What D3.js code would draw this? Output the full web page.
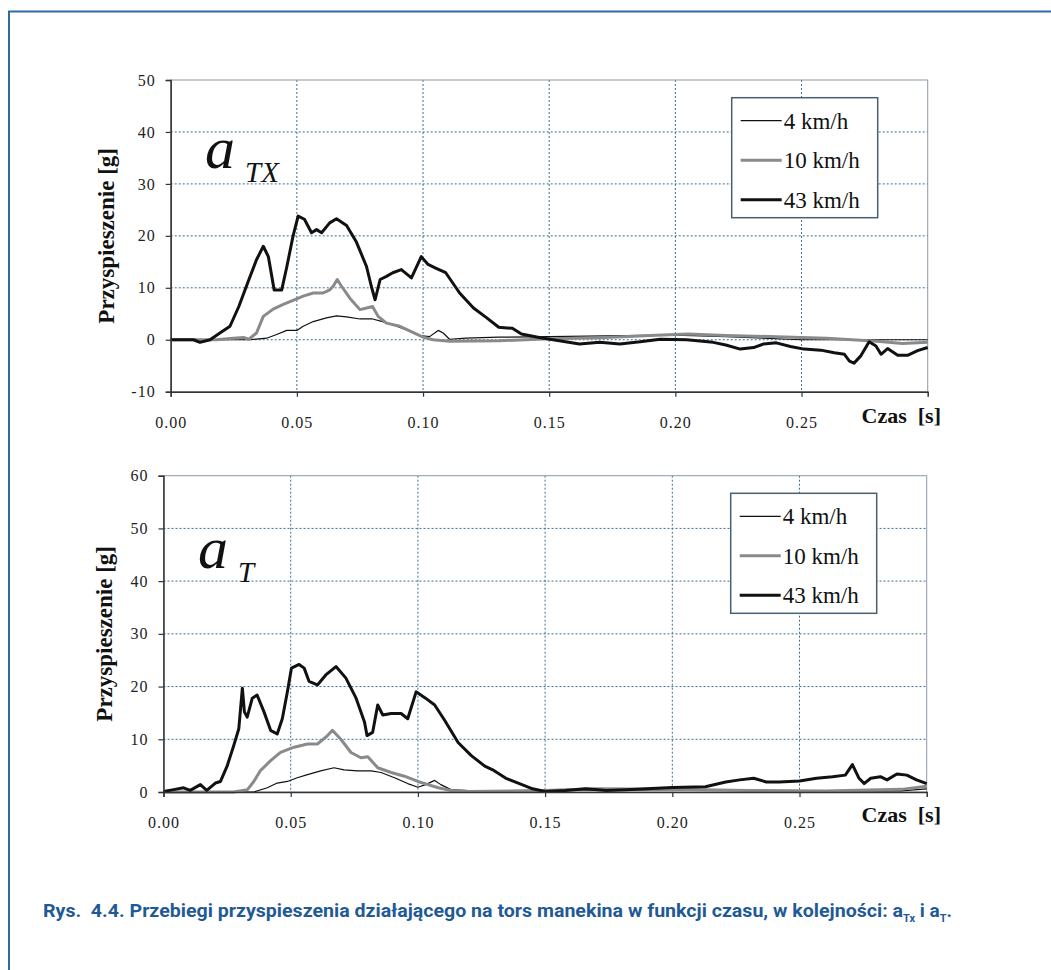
<!DOCTYPE html>
<html>
<head>
<meta charset="utf-8">
<script src="https://cdn.jsdelivr.net/npm/d3@7"></script>
<style>
  body { margin: 0; background: #fff; }
  svg { display: block; }
  .serif { font-family: "Liberation Serif", Tinos, "Times New Roman", serif; }
</style>
</head>
<body>
<svg id="chart" width="1051" height="970"></svg>
<script>
// series names / legend
const seriesNames = ["4 km/h", "10 km/h", "43 km/h"];
const xTicks = [0, 0.05, 0.10, 0.15, 0.20, 0.25];

// a_TX panel: [time s, acceleration g]
const tx4 = [[0,0],[0.031,0],[0.038,0.3],[0.042,1],[0.046,1.8],[0.05,1.8],[0.0525,2.6],[0.0565,3.5],[0.0617,4.2],[0.0657,4.6],[0.0697,4.4],[0.075,4],[0.080,4],[0.084,3.5],[0.088,2.9],[0.0934,1.9],[0.0987,0.8],[0.1026,0.6],[0.106,1.8],[0.108,1.3],[0.1105,0.1],[0.117,0.3],[0.130,0.5],[0.15,0.6],[0.18,0.8],[0.20,0.9],[0.22,0.6],[0.245,0.1],[0.25,0],[0.30,0]];
const tx10 = [[0,0],[0.018,0],[0.0248,0.3],[0.0288,0.45],[0.031,0.1],[0.034,1.3],[0.0367,4.5],[0.0406,5.9],[0.0446,6.8],[0.0485,7.6],[0.0525,8.4],[0.0565,9],[0.0604,9],[0.063,9.6],[0.0644,10.3],[0.066,11.6],[0.0677,10.3],[0.071,8],[0.075,5.8],[0.0776,6.1],[0.080,6.4],[0.0822,4.5],[0.0855,3.2],[0.0908,2.6],[0.096,1.4],[0.100,0.5],[0.104,0],[0.1105,-0.3],[0.13,-0.2],[0.15,0.2],[0.17,0.4],[0.19,0.8],[0.205,1.1],[0.22,0.8],[0.24,0.6],[0.26,0.3],[0.28,-0.3],[0.29,-0.7],[0.30,-0.5]];
const tx43 = [[0,0],[0.009,0],[0.0116,-0.5],[0.0156,0],[0.0195,1.3],[0.0235,2.6],[0.027,6.4],[0.031,11.6],[0.034,15.4],[0.0367,18],[0.0387,16],[0.041,9.6],[0.044,9.6],[0.046,14],[0.0485,20],[0.0505,23.8],[0.053,23.2],[0.0558,20.6],[0.0578,21.2],[0.0598,20.6],[0.063,22.5],[0.0657,23.3],[0.0697,22],[0.0736,18.8],[0.0776,14.1],[0.0795,10.3],[0.081,7.7],[0.083,11.6],[0.0855,12.2],[0.088,12.9],[0.0914,13.5],[0.0954,11.9],[0.0993,16],[0.102,14.5],[0.105,13.8],[0.109,12.9],[0.1145,9],[0.12,6.1],[0.125,4.3],[0.130,2.4],[0.1354,2.2],[0.139,1.1],[0.146,0.45],[0.154,-0.2],[0.162,-0.8],[0.17,-0.5],[0.178,-0.8],[0.186,-0.4],[0.194,0.1],[0.2045,0],[0.215,-0.5],[0.220,-1],[0.2257,-1.8],[0.231,-1.5],[0.235,-0.8],[0.240,-0.6],[0.2456,-1.3],[0.251,-1.8],[0.2576,-2],[0.263,-2.5],[0.267,-2.8],[0.269,-4.1],[0.2708,-4.5],[0.2735,-3.1],[0.2768,-0.4],[0.2795,-1.2],[0.2815,-2.8],[0.2841,-1.7],[0.2881,-3],[0.292,-3],[0.296,-2.1],[0.300,-1.5]];
const txYTicks = [-10, 0, 10, 20, 30, 40, 50];

// a_T panel
const t4 = [[0,0],[0.0355,0],[0.0408,0.8],[0.0447,1.7],[0.0487,2],[0.0526,2.7],[0.0566,3.3],[0.0618,4],[0.067,4.6],[0.071,4.2],[0.0763,4],[0.0816,4],[0.0855,3.7],[0.0908,2.7],[0.096,1.6],[0.100,0.9],[0.103,1.4],[0.1066,2.2],[0.109,1.4],[0.113,0.45],[0.12,0.25],[0.16,0.3],[0.20,0.4],[0.25,0.2],[0.29,0.2],[0.30,0.6]];
const t10 = [[0,0],[0.0276,0],[0.033,0.45],[0.0355,2],[0.038,4],[0.042,5.9],[0.046,7.5],[0.0513,8.5],[0.0566,9.1],[0.0605,9.1],[0.0645,10.7],[0.0664,11.7],[0.0697,10],[0.0737,7.5],[0.0776,6.5],[0.0803,6.7],[0.0842,4.6],[0.0895,3.7],[0.0947,3],[0.100,2],[0.104,1.4],[0.108,0.8],[0.113,0.3],[0.12,0.1],[0.15,0.3],[0.17,0.6],[0.20,0.5],[0.23,0.3],[0.26,0.2],[0.29,0.5],[0.30,1.1]];
const t43 = [[0,0.1],[0.004,0.45],[0.0079,0.8],[0.0105,0.3],[0.0145,1.4],[0.017,0.3],[0.0204,1.7],[0.0224,2],[0.025,4.9],[0.0276,8.8],[0.0296,12],[0.031,19.7],[0.0318,15.2],[0.0329,14.2],[0.0349,17.8],[0.0368,18.4],[0.0395,15.2],[0.0421,11.7],[0.0447,11],[0.0467,13.9],[0.0487,19],[0.0503,23.5],[0.0533,24.2],[0.0553,23.5],[0.0572,21],[0.0605,20.3],[0.0638,22.2],[0.0678,23.8],[0.0717,21.6],[0.0757,17.8],[0.079,13.3],[0.080,10.7],[0.0822,11.3],[0.0842,16.5],[0.0862,14.6],[0.0895,14.9],[0.0934,14.9],[0.096,13.9],[0.0993,19],[0.103,17.8],[0.1066,16.5],[0.1105,13.6],[0.1158,9.4],[0.121,6.9],[0.1263,4.9],[0.1294,4.2],[0.1346,2.6],[0.1399,1.6],[0.1451,0.6],[0.150,0.1],[0.158,0.3],[0.166,0.6],[0.174,0.3],[0.182,0.45],[0.190,0.6],[0.200,0.85],[0.213,1],[0.221,1.9],[0.2265,2.3],[0.232,2.6],[0.237,1.9],[0.242,1.9],[0.250,2.1],[0.2567,2.6],[0.263,2.9],[0.268,3.2],[0.2708,5.2],[0.2734,2.6],[0.2754,1.6],[0.278,2.6],[0.2818,2.9],[0.2844,2.3],[0.2883,3.4],[0.2922,3.2],[0.296,2.3],[0.300,1.6]];
const tYTicks = [0, 10, 20, 30, 40, 50, 60];

const caption = "Rys.  4.4. Przebiegi przyspieszenia działającego na tors manekina w funkcji czasu, w kolejności: a";

const styles = [
  {color: "#111", width: 1.2},
  {color: "#8a8a8a", width: 3},
  {color: "#111", width: 3}
];

const svg = d3.select("#chart");

// page frame
svg.append("line").attr("x1", 8).attr("x2", 1051).attr("y1", 11.5).attr("y2", 11.5)
  .attr("stroke", "#2f6aa8").attr("stroke-width", 2);
svg.append("line").attr("x1", 9).attr("x2", 9).attr("y1", 11).attr("y2", 970)
  .attr("stroke", "#2f6aa8").attr("stroke-width", 2);

const drawPanel = (cfg) => {
  const x = d3.scaleLinear().domain([0, 0.30]).range([cfg.left, cfg.right]);
  const y = d3.scaleLinear().domain(cfg.yDomain).range([cfg.bottom, cfg.top]);
  const g = svg.append("g").attr("class", "panel");

  // grid
  g.selectAll("line.gx").data(xTicks.slice(1)).enter().append("line")
    .attr("x1", d => x(d)).attr("x2", d => x(d))
    .attr("y1", cfg.top).attr("y2", cfg.bottom)
    .attr("stroke", "#3f6f8f").attr("stroke-width", 1).attr("stroke-dasharray", "2,2");
  g.selectAll("line.gy").data(cfg.yTicks.slice(1, -1)).enter().append("line")
    .attr("x1", cfg.left).attr("x2", cfg.right)
    .attr("y1", d => y(d)).attr("y2", d => y(d))
    .attr("stroke", "#3f6f8f").attr("stroke-width", 1).attr("stroke-dasharray", "2,2");

  // frame top/right
  g.append("rect").attr("x", cfg.left).attr("y", cfg.top)
    .attr("width", cfg.right - cfg.left).attr("height", cfg.bottom - cfg.top)
    .attr("fill", "none").attr("stroke", "#8a9aa8").attr("stroke-width", 1);

  // series
  const line = d3.line().x(d => x(d[0])).y(d => y(d[1]));
  cfg.series.forEach((s, i) => {
    g.append("path").datum(s)
      .attr("fill", "none")
      .attr("stroke", styles[i].color)
      .attr("stroke-width", styles[i].width)
      .attr("stroke-linejoin", "round")
      .attr("d", line);
  });

  // axes
  const yAxis = g.append("g").attr("transform", "translate(" + cfg.left + ",0)")
    .call(d3.axisLeft(y).tickValues(cfg.yTicks).tickSize(5).tickPadding(10).tickFormat(d => String(d)));
  const xAxis = g.append("g").attr("transform", "translate(0," + cfg.bottom + ")")
    .call(d3.axisBottom(x).tickValues(xTicks).tickSize(5).tickPadding(20).tickFormat(d3.format(".2f")));
  [xAxis, yAxis].forEach(a => {
    a.attr("font-family", null);
    a.select(".domain").attr("stroke", "#333").attr("stroke-width", 1.5);
    a.selectAll(".tick line").attr("stroke", "#333").attr("stroke-width", 1.2);
    a.selectAll("text").attr("class", "serif").attr("font-size", 16)
      .attr("letter-spacing", 1).attr("fill", "#222");
  });

  // axis titles
  g.append("text").attr("class", "serif")
    .attr("transform", "translate(" + cfg.yTitleX + "," + ((cfg.top + cfg.bottom) / 2) + ") rotate(-90)")
    .attr("text-anchor", "middle")
    .attr("font-weight", "bold").attr("font-size", 23)
    .attr("fill", "#111")
    .text("Przyspieszenie [g]");
  g.append("text").attr("class", "serif")
    .attr("x", 941).attr("y", cfg.xTitleY)
    .attr("text-anchor", "end")
    .attr("font-weight", "bold").attr("font-size", 22)
    .attr("fill", "#111").attr("xml:space", "preserve")
    .text("Czas  [s]");

  // big symbol label
  const lab = g.append("text").attr("class", "serif").attr("x", cfg.labX).attr("y", cfg.labY)
    .attr("font-style", "italic").attr("fill", "#111");
  lab.append("tspan").attr("font-size", 60).text("a");
  lab.append("tspan").attr("font-size", 29).attr("dx", 10).attr("dy", 14).text(cfg.sub);

  // legend
  const lg = g.append("g").attr("transform", "translate(" + cfg.legX + "," + cfg.legY + ")");
  lg.append("rect").attr("width", 146).attr("height", 120)
    .attr("fill", "#fff").attr("stroke", "#4a6070").attr("stroke-width", 1.5);
  seriesNames.forEach((name, i) => {
    const ly = 23 + i * 39.5;
    lg.append("line").attr("x1", 9).attr("x2", 50).attr("y1", ly).attr("y2", ly)
      .attr("stroke", styles[i].color).attr("stroke-width", styles[i].width);
    lg.append("text").attr("class", "serif").attr("x", 52).attr("y", ly + 8)
      .attr("font-size", 23).attr("fill", "#111")
      .text(name);
  });
};

drawPanel({
  left: 170.7, right: 927.7, top: 80, bottom: 391.7,
  yDomain: [-10, 50], yTicks: txYTicks,
  series: [tx4, tx10, tx43],
  yTitleX: 114, xTitleY: 423,
  labX: 205, labY: 168, sub: "TX",
  legX: 731.7, legY: 97.7
});

drawPanel({
  left: 163.5, right: 926.7, top: 475.7, bottom: 792,
  yDomain: [0, 60], yTicks: tYTicks,
  series: [t4, t10, t43],
  yTitleX: 112, xTitleY: 822,
  labX: 198, labY: 568, sub: "T",
  legX: 730.7, legY: 493.3
});

// caption
const cap = svg.append("text").attr("x", 43).attr("y", 917)
  .attr("font-family", "Roboto, 'Noto Sans', sans-serif").attr("font-weight", "bold")
  .attr("font-size", 19).attr("fill", "#1f5a96").attr("xml:space", "preserve");
cap.append("tspan").attr("textLength", 860).attr("lengthAdjust", "spacingAndGlyphs").text(caption);
cap.append("tspan").attr("font-size", 11).attr("dy", 5).text("Tx");
cap.append("tspan").attr("dy", -5).text(" i a");
cap.append("tspan").attr("font-size", 11).attr("dy", 5).text("T");
cap.append("tspan").attr("dy", -5).text(".");
</script>
</body>
</html>
